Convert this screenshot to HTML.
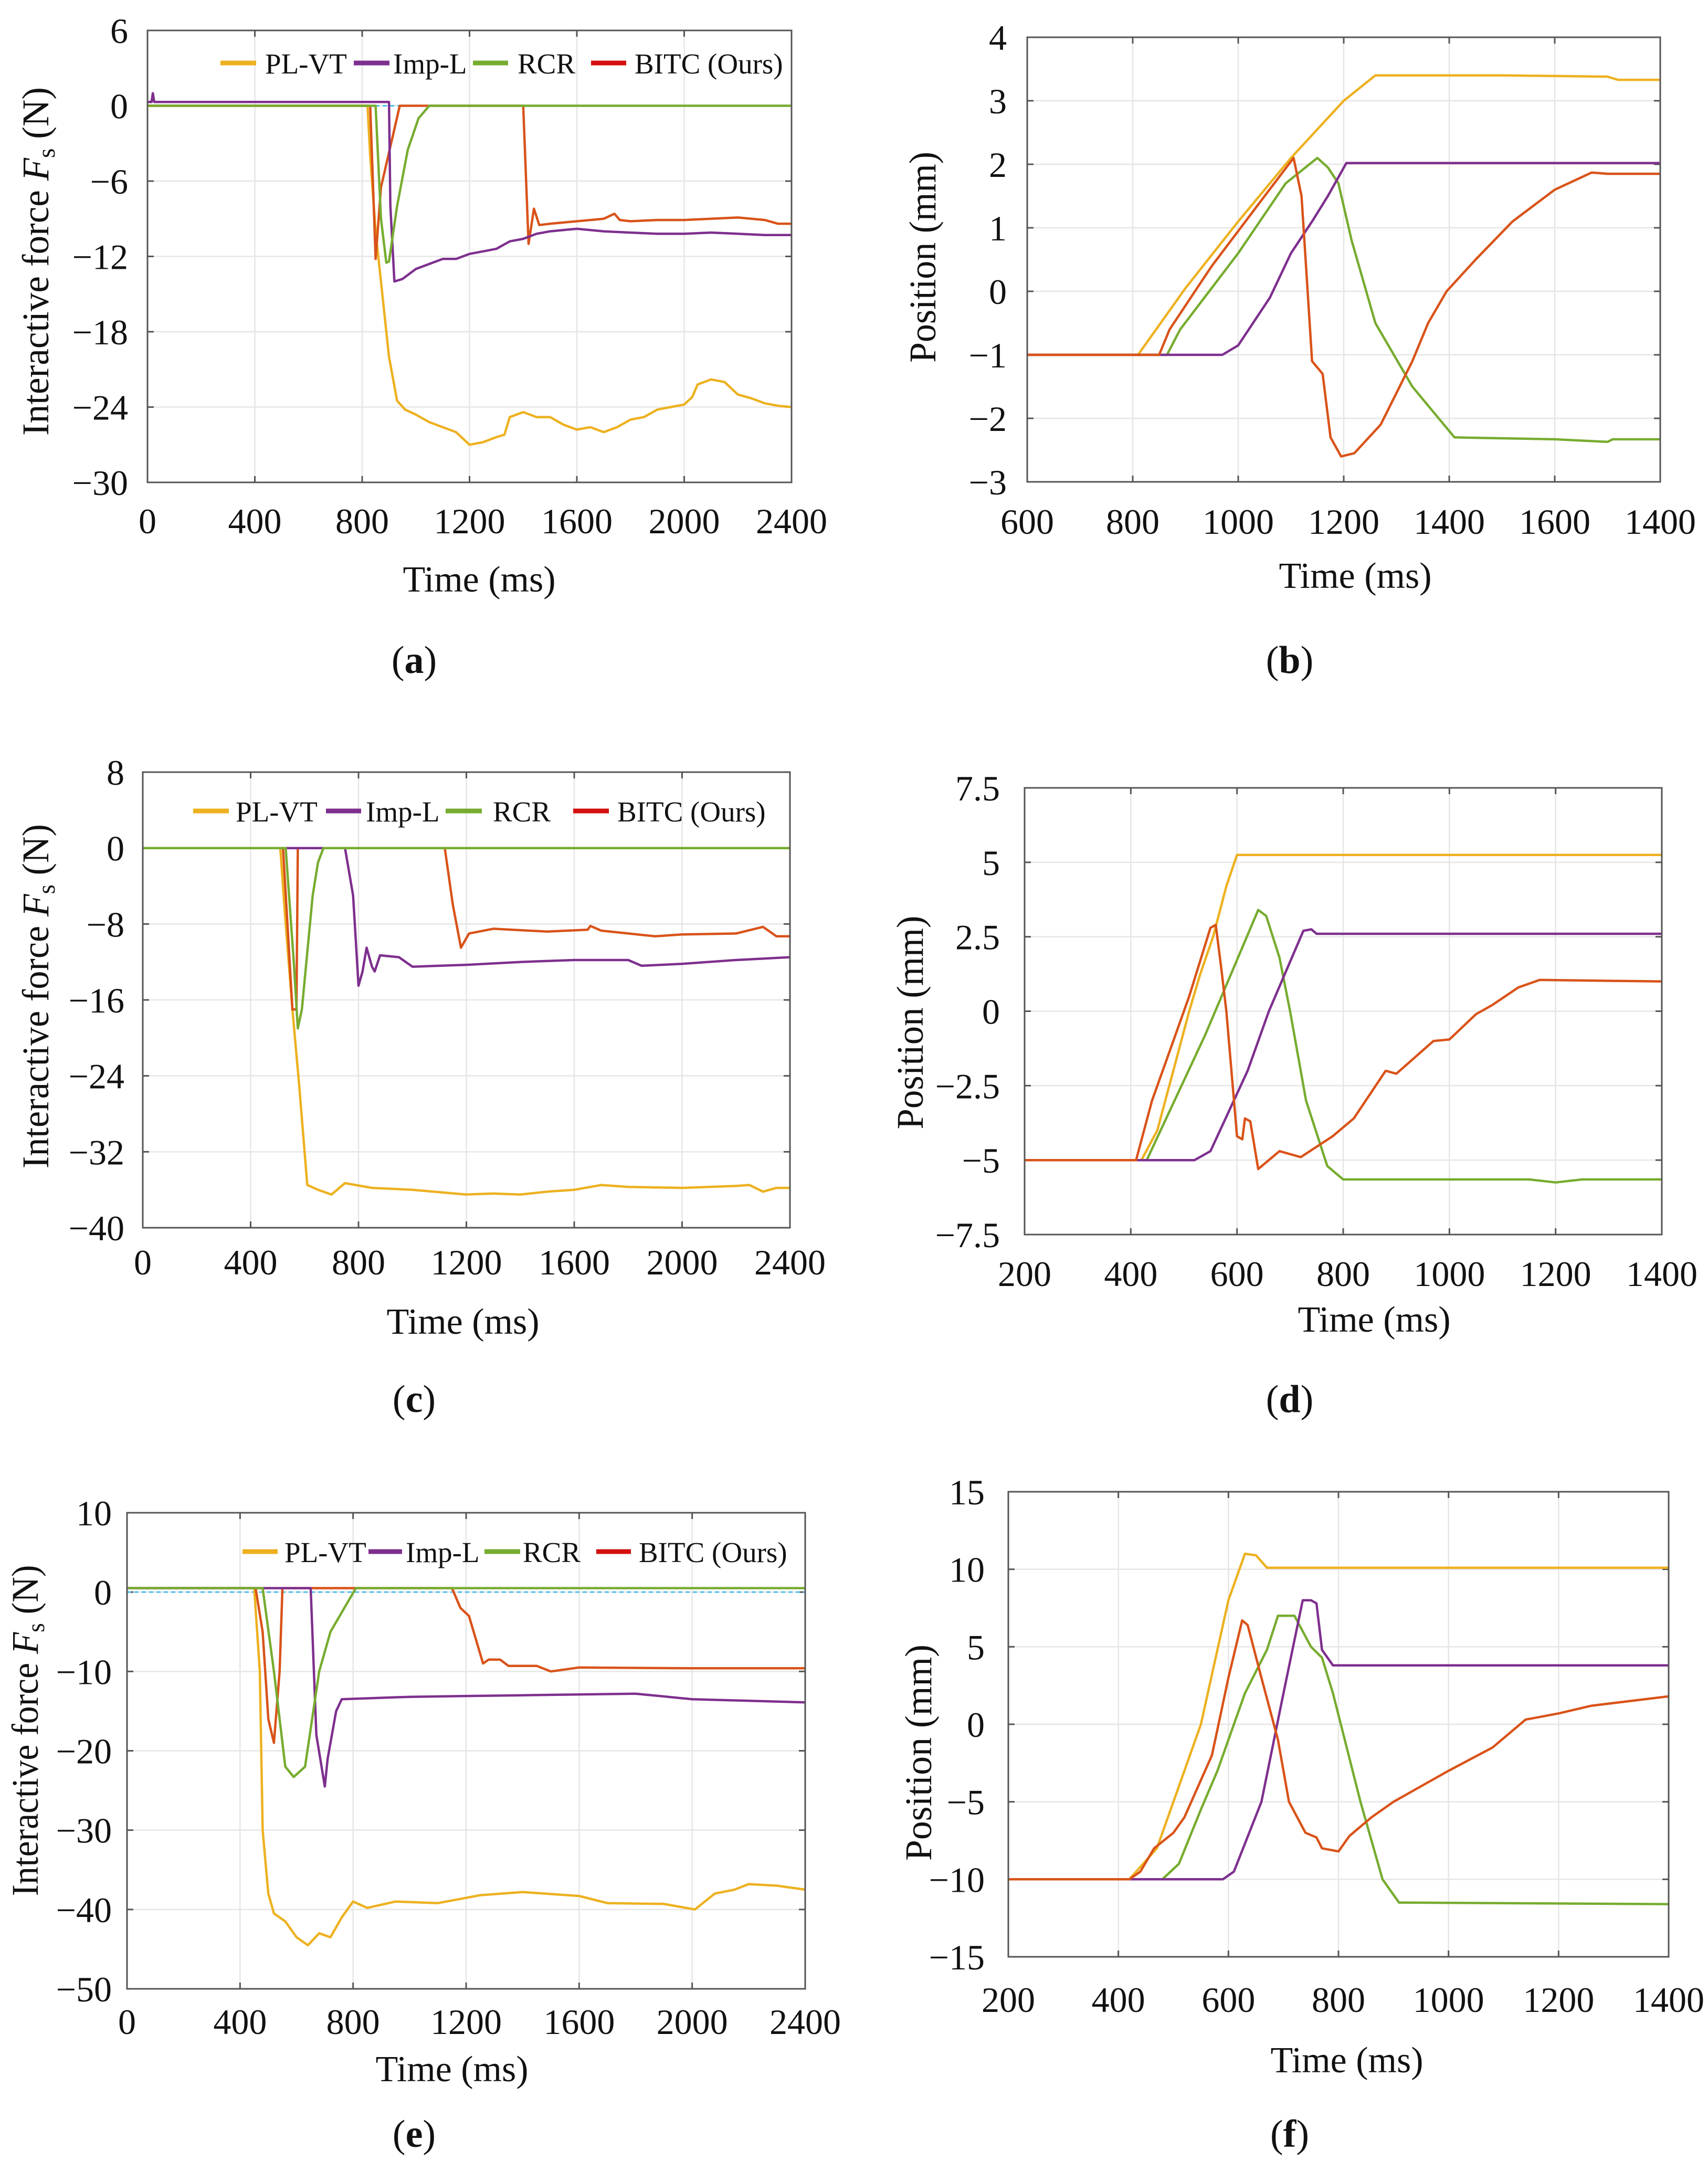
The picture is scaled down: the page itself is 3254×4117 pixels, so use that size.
<!DOCTYPE html>
<html><head><meta charset="utf-8"><style>
html,body{margin:0;padding:0;background:#fff;}
svg{display:block;font-family:"Liberation Serif","DejaVu Serif",serif;}
</style></head><body>
<svg id="fig" width="3254" height="4117" viewBox="0 0 3254 4117" xmlns="http://www.w3.org/2000/svg">
<rect x="0" y="0" width="3254" height="4117" fill="#fff"/>
</svg>
<script>
// ---------- data (time ms / value) ----------
// panel a: force
const aPLt=[0,820,830,850,870,900,930,960,1000,1050,1100,1150,1200,1250,1300,1330,1350,1400,1450,1500,1550,1600,1650,1700,1750,1800,1850,1900,1950,2000,2030,2050,2100,2150,2200,2250,2300,2350,2400];
const aPLv=[0,0,-4,-10,-14,-20,-23.5,-24.2,-24.6,-25.2,-25.6,-26,-27,-26.8,-26.4,-26.2,-24.8,-24.4,-24.8,-24.8,-25.4,-25.8,-25.6,-26,-25.6,-25,-24.8,-24.2,-24,-23.8,-23.2,-22.2,-21.8,-22,-23,-23.3,-23.7,-23.9,-24];
const aIMt=[0,15,20,25,900,905,920,950,1000,1050,1100,1150,1200,1250,1300,1350,1400,1450,1500,1550,1600,1700,1800,1900,2000,2100,2200,2300,2400];
const aIMv=[0.3,0.3,1.0,0.3,0.3,-8,-14,-13.8,-13,-12.6,-12.2,-12.2,-11.8,-11.6,-11.4,-10.8,-10.6,-10.2,-10,-9.9,-9.8,-10,-10.1,-10.2,-10.2,-10.1,-10.2,-10.3,-10.3];
const aRCt=[0,850,870,890,900,930,970,1010,1050,2400];
const aRCv=[0,0,-9,-12.5,-12.4,-8,-3.5,-1,0,0];
const aBIt=[0,830,850,870,940,1400,1420,1440,1460,1500,1600,1700,1740,1760,1800,1900,2000,2100,2200,2300,2350,2400];
const aBIv=[0,0,-12.2,-6.5,0,0,-11,-8.2,-9.5,-9.4,-9.2,-9,-8.6,-9.1,-9.2,-9.1,-9.1,-9,-8.9,-9.1,-9.4,-9.4];
// panel b: position
const bPLt=[600,810,900,1000,1100,1200,1230,1260,1500,1700,1720,1800];
const bPLv=[-1,-1,0.05,1.1,2.1,3.0,3.2,3.4,3.4,3.38,3.33,3.33];
const bBIt=[600,850,870,950,1050,1105,1120,1130,1140,1160,1175,1195,1220,1270,1300,1330,1360,1395,1450,1520,1600,1670,1700,1800];
const bBIv=[-1,-1,-0.6,0.4,1.5,2.1,1.5,0.2,-1.1,-1.3,-2.3,-2.6,-2.55,-2.1,-1.6,-1.1,-0.5,0,0.5,1.1,1.6,1.87,1.85,1.85];
const bRCt=[600,865,890,1000,1090,1150,1170,1190,1215,1260,1330,1380,1410,1600,1650,1700,1710,1800];
const bRCv=[-1,-1,-0.6,0.6,1.7,2.1,1.95,1.7,0.8,-0.5,-1.5,-2.0,-2.3,-2.33,-2.35,-2.37,-2.33,-2.33];
const bIMt=[600,970,1000,1020,1060,1100,1140,1170,1205,1800];
const bIMv=[-1,-1,-0.85,-0.6,-0.1,0.6,1.1,1.5,2.02,2.02];
// panel c: force
const cPLt=[0,510,530,555,580,610,650,700,750,850,1000,1200,1300,1400,1500,1600,1700,1800,2000,2200,2250,2300,2350,2400];
const cPLv=[0,0,-8,-17,-25,-35.5,-36,-36.5,-35.3,-35.8,-36,-36.5,-36.4,-36.5,-36.2,-36,-35.5,-35.7,-35.8,-35.6,-35.5,-36.2,-35.8,-35.8];
const cBIt=[0,520,555,570,575,1120,1150,1180,1210,1300,1500,1650,1660,1700,1800,1900,2000,2200,2300,2350,2400];
const cBIv=[0,0,-17,-17,0,0,-6,-10.5,-9,-8.5,-8.8,-8.6,-8.2,-8.7,-9,-9.3,-9.1,-9,-8.3,-9.3,-9.3];
const cRCt=[0,530,560,575,590,610,630,650,670,2400];
const cRCv=[0,0,-12,-19,-17,-11,-5,-1.5,0,0];
const cIMt=[0,750,780,800,815,830,850,860,880,950,1000,1100,1200,1400,1600,1800,1850,2000,2200,2400];
const cIMv=[0,0,-5,-14.5,-13,-10.5,-12.5,-13,-11.3,-11.5,-12.5,-12.4,-12.3,-12,-11.8,-11.8,-12.4,-12.2,-11.8,-11.5];
// panel d: position
const dPLt=[200,420,450,480,510,530,555,580,600,1400];
const dPLv=[-5,-5,-4,-2,0,1.2,2.5,4.2,5.25,5.25];
const dBIt=[200,410,440,470,510,550,560,570,580,600,610,615,625,640,680,720,780,820,880,900,970,1000,1050,1080,1130,1170,1400];
const dBIv=[-5,-5,-3,-1.5,0.5,2.8,2.9,1.5,0,-4.2,-4.3,-3.6,-3.7,-5.3,-4.7,-4.9,-4.2,-3.6,-2,-2.1,-1.0,-0.95,-0.1,0.2,0.8,1.05,1.0];
const dRCt=[200,430,540,640,655,680,700,730,770,800,1150,1200,1250,1400];
const dRCv=[-5,-5,-0.8,3.4,3.2,1.8,0,-3,-5.2,-5.65,-5.65,-5.75,-5.65,-5.65];
const dIMt=[200,520,550,620,660,725,740,750,1400];
const dIMv=[-5,-5,-4.7,-2,0,2.7,2.75,2.6,2.6];
// panel e: force
const ePLt=[0,450,470,480,500,520,560,600,640,680,720,760,800,850,950,1100,1250,1400,1600,1700,1900,2010,2080,2150,2200,2300,2400];
const ePLv=[0.5,0.5,-10,-30,-38,-40.5,-41.5,-43.5,-44.5,-43,-43.5,-41,-39,-39.8,-39,-39.2,-38.2,-37.8,-38.3,-39.2,-39.3,-40,-38,-37.5,-36.8,-37,-37.5];
const eBIt=[0,455,480,500,520,540,550,1150,1180,1210,1260,1280,1320,1350,1450,1500,1600,2000,2400];
const eBIv=[0.5,0.5,-5,-16,-19,-10,0.5,0.5,-2,-3,-9,-8.5,-8.5,-9.3,-9.3,-10,-9.5,-9.6,-9.6];
const eRCt=[0,480,520,560,590,630,680,720,810,2400];
const eRCv=[0.5,0.5,-10,-22,-23.3,-22,-10,-5,0.5,0.5];
const eIMt=[0,650,670,700,710,740,760,1000,1400,1800,2000,2400];
const eIMv=[0.5,0.5,-18,-24.5,-21,-15,-13.5,-13.2,-13,-12.8,-13.5,-13.9];
// panel f: position
const fPLt=[200,420,470,550,600,630,650,670,1400];
const fPLv=[-10,-10,-8,0,8,11,10.9,10.1,10.1];
const fBIt=[200,420,440,465,500,520,570,600,625,635,660,690,710,740,760,770,800,820,860,900,950,1000,1080,1140,1200,1260,1400];
const fBIv=[-10,-10,-9.5,-8,-7,-6,-2,3,6.7,6.4,3,-1,-5,-7,-7.3,-8,-8.2,-7.2,-6,-5,-4,-3,-1.5,0.3,0.7,1.2,1.8];
const fRCt=[200,480,510,550,580,610,630,670,690,720,750,770,790,840,880,910,1400];
const fRCv=[-10,-10,-9,-5.5,-3,0,2,4.8,7,7,5,4.3,2,-5,-10,-11.5,-11.6];
const fIMt=[200,590,610,660,700,735,750,760,770,790,1400];
const fIMv=[-10,-10,-9.5,-5,2,8,8,7.8,4.8,3.8,3.8];
// ticks
const forceXTicks=[0,400,800,1200,1600,2000,2400];
const aYTicks=[6,0,-6,-12,-18,-24,-30];
const bXTicks=[600,800,1000,1200,1400,1600,1800];
const bXLabels=["600","800","1000","1200","1400","1600","1400"];
const bYTicks=[4,3,2,1,0,-1,-2,-3];
const cYTicks=[8,0,-8,-16,-24,-32,-40];
const dXTicks=[200,400,600,800,1000,1200,1400];
const dYTicks=[7.5,5,2.5,0,-2.5,-5,-7.5];
const eYTicks=[10,0,-10,-20,-30,-40,-50];
const fYTicks=[15,10,5,0,-5,-10,-15];
const seriesNames=["PL-VT","Imp-L","RCR","BITC (Ours)"];

// ---------- drawing ----------
const NS="http://www.w3.org/2000/svg";
const svg=document.getElementById('fig');
const COL={pl:"#EDB120",im:"#7E2F8E",rc:"#77AC30",bi:"#D95319"};
const LEGCOL=["#EDB120","#7E2F8E","#77AC30","#D40F0F"];
function el(tag,attrs,parent){const e=document.createElementNS(NS,tag);for(const k in attrs)e.setAttribute(k,attrs[k]);(parent||svg).appendChild(e);return e;}
function fmt(v){return (v<0?"\u2212":"")+Math.abs(v);}

function panel(c){
  const g=el('g',{});
  
  
  const sx=t=>c.L+(t-c.x0)/(c.x1-c.x0)*(c.R-c.L);
  const sy=v=>c.T+(c.y1-v)/(c.y1-c.y0)*(c.B-c.T);
  // grid
  c.xt.forEach((t,i)=>{
    const gl=el('line',{x1:sx(t),x2:sx(t),y1:c.T,y2:c.B,stroke:"#e6e6e6","stroke-width":2.5},g);
    
    
    el('line',{x1:sx(t),x2:sx(t),y1:c.T,y2:c.T+12,stroke:"#555","stroke-width":3},g);
    el('line',{x1:sx(t),x2:sx(t),y1:c.B,y2:c.B-12,stroke:"#555","stroke-width":3},g);
    const lab=el('text',{x:sx(t),y:c.xlY,"font-size":68,"text-anchor":"middle",fill:"#111"},g);
    lab.textContent=c.xl?c.xl[i]:String(t);
    
    
  });
  c.yt.forEach(v=>{
    const gl=el('line',{x1:c.L,x2:c.R,y1:sy(v),y2:sy(v),stroke:"#e6e6e6","stroke-width":2.5},g);
    
    
    el('line',{x1:c.L,x2:c.L+12,y1:sy(v),y2:sy(v),stroke:"#555","stroke-width":3},g);
    el('line',{x1:c.R,x2:c.R-12,y1:sy(v),y2:sy(v),stroke:"#555","stroke-width":3},g);
    const lab=el('text',{x:c.ylX,y:sy(v)+24,"font-size":68,"text-anchor":"end",fill:"#111"},g);
    lab.textContent=fmt(v);
    
    
  });
  if(c.ref!==undefined){
    const r=el('line',{x1:c.L,x2:c.R,y1:sy(c.ref),y2:sy(c.ref),stroke:"#4DBEEE","stroke-width":3,"stroke-dasharray":"8 6"},g);
    
    
  }
  const order=c.order;
  order.forEach(s=>{
    const pts=s.t.map((t,i)=>sx(t).toFixed(1)+","+sy(s.v[i]).toFixed(1)).join(" ");
    const pl=el('polyline',{points:pts,fill:"none",stroke:s.col,"stroke-width":4.5,"stroke-linejoin":"round"},g);
    
    
  });
  const box=el('rect',{x:c.L,y:c.T,width:c.R-c.L,height:c.B-c.T,fill:"none",stroke:"#555","stroke-width":3},g);
  
  
  // legend
  if(c.leg){
    c.leg.items.forEach((it,i)=>{
      const ln=el('line',{x1:it[0],x2:it[1],y1:c.leg.y,y2:c.leg.y,stroke:LEGCOL[i],"stroke-width":9},g);
      
      
      const tx=el('text',{x:it[2],y:c.leg.y+20,"font-size":55,fill:"#111"},g);
      tx.textContent=seriesNames[i];
      
      
    });
  }
  // axis titles
  const xt=el('text',{x:c.xtX,y:c.xtY,"font-size":70,"text-anchor":"middle",fill:"#111"},g);
  xt.textContent="Time (ms)";
  
  
  const yt=el('text',{transform:`translate(${c.ytX},${c.ytY}) rotate(-90)`,"font-size":72,"text-anchor":"middle",fill:"#111",textLength:c.ytLen,lengthAdjust:"spacingAndGlyphs"},g);
  if(c.force){
    yt.appendChild(document.createTextNode("Interactive force "));
    const f=el('tspan',{"font-style":"italic"},yt);f.textContent="F";
    const s=el('tspan',{"font-size":48,dy:12},yt);s.textContent="s";
    const n=el('tspan',{dy:-12},yt);n.textContent=" (N)";
  } else yt.textContent="Position (mm)";
  
  
  const cap=el('text',{x:c.capX,y:c.capY,"font-size":74,"text-anchor":"middle",fill:"#111"},g);
  cap.appendChild(document.createTextNode("("));
  const b=el('tspan',{"font-weight":"bold"},cap);b.textContent=c.letter;
  cap.appendChild(document.createTextNode(")"));
  
  
}
function ser(pt,pv,it,iv,rt,rv,bt,bv){
  return [{t:pt,v:pv,col:COL.pl,nm:"pl-vt-line"},{t:it,v:iv,col:COL.im,nm:"imp-l-line"},{t:rt,v:rv,col:COL.rc,nm:"rcr-line"},{t:bt,v:bv,col:COL.bi,nm:"bitc-line"}];
}
function ordForce(s){return [s[0],s[3],s[1],s[2]];}
function ordPos(s){return [s[0],s[2],s[1],s[3]];}

panel({name:"panel-a",L:281,R:1508,T:58,B:919,x0:0,x1:2400,y0:-30,y1:6,xt:forceXTicks,yt:aYTicks,
  ylX:244,xlY:1016,xtX:913,xtY:1127,ytX:92,ytY:498,ytLen:664,force:true,capX:789,capY:1282,letter:"a",ref:0,
  order:ordForce(ser(aPLt,aPLv,aIMt,aIMv,aRCt,aRCv,aBIt,aBIv)),
  leg:{y:120,items:[[420,488,505],[674,742,749],[901,968,986],[1126,1193,1209]]}});
panel({name:"panel-b",L:1957,R:3163,T:71,B:918,x0:600,x1:1800,y0:-3,y1:4,xt:bXTicks,xl:bXLabels,yt:bYTicks,
  ylX:1918,xlY:1017,xtX:2582,xtY:1120,ytX:1782,ytY:490,ytLen:402,force:false,capX:2457,capY:1282,letter:"b",
  order:ordPos(ser(bPLt,bPLv,bIMt,bIMv,bRCt,bRCv,bBIt,bBIv))});
panel({name:"panel-c",L:272,R:1505,T:1471,B:2339,x0:0,x1:2400,y0:-40,y1:8,xt:forceXTicks,yt:cYTicks,
  ylX:237,xlY:2428,xtX:882,xtY:2541,ytX:92,ytY:1898,ytLen:656,force:true,capX:789,capY:2690,letter:"c",ref:0,
  order:ordForce(ser(cPLt,cPLv,cIMt,cIMv,cRCt,cRCv,cBIt,cBIv)),
  leg:{y:1545,items:[[368,436,449],[621,688,697],[849,918,939],[1092,1160,1176]]}});
panel({name:"panel-d",L:1952,R:3166,T:1501,B:2352,x0:200,x1:1400,y0:-7.5,y1:7.5,xt:dXTicks,yt:dYTicks,
  ylX:1905,xlY:2450,xtX:2618,xtY:2537,ytX:1758,ytY:1948,ytLen:407,force:false,capX:2457,capY:2690,letter:"d",
  order:ordPos(ser(dPLt,dPLv,dIMt,dIMv,dRCt,dRCv,dBIt,dBIv))});
panel({name:"panel-e",L:242,R:1534,T:2882,B:3789,x0:0,x1:2400,y0:-50,y1:10,xt:forceXTicks,yt:eYTicks,
  ylX:213,xlY:3875,xtX:861,xtY:3965,ytX:72,ytY:3297,ytLen:631,force:true,capX:789,capY:4090,letter:"e",ref:0,
  order:ordForce(ser(ePLt,ePLv,eIMt,eIMv,eRCt,eRCv,eBIt,eBIv)),
  leg:{y:2956,items:[[462,529,542],[702,766,773],[923,991,996],[1136,1202,1217]]}});
panel({name:"panel-f",L:1921,R:3179,T:2842,B:3728,x0:200,x1:1400,y0:-15,y1:15,xt:dXTicks,yt:fYTicks,
  ylX:1876,xlY:3833,xtX:2566,xtY:3948,ytX:1774,ytY:3339,ytLen:412,force:false,capX:2457,capY:4090,letter:"f",
  order:ordPos(ser(fPLt,fPLv,fIMt,fIMv,fRCt,fRCv,fBIt,fBIv))});
</script>
</body></html>
